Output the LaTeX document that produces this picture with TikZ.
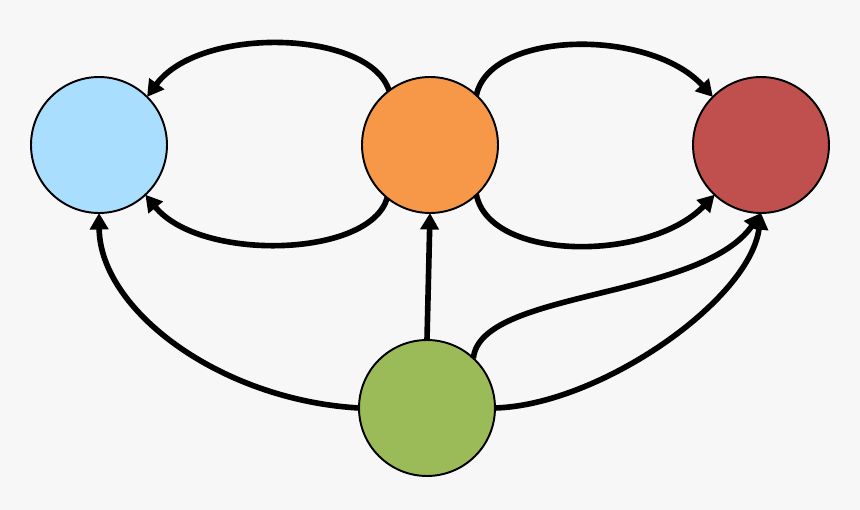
\documentclass[tikz,border=0pt]{standalone}
\usetikzlibrary{arrows.meta}
\definecolor{cfondo}{RGB}{247,247,247}
\definecolor{cazul}{RGB}{170,222,255}
\definecolor{cnaranja}{RGB}{247,152,72}
\definecolor{crojo}{RGB}{192,80,77}
\definecolor{cverde}{RGB}{155,187,89}

\begin{document}
\begin{tikzpicture}[x=0.02cm, y=-0.02cm, >={Triangle[length=0.33cm, width=0.36cm]},
    estado/.style={circle, draw, line width=1.1pt, minimum size=2.72cm, inner sep=0pt, outer sep=0pt},
    flecha/.style={->, line width=3.2pt}]

  \fill[cfondo] (0,0) rectangle (860,510);
  \useasboundingbox (0,0) rectangle (860,510);

  \node[estado, fill=cazul]    (B) at (99,145)  {};
  \node[estado, fill=cnaranja] (O) at (430,145) {};
  \node[estado, fill=crojo]    (R) at (761,145) {};
  \node[estado, fill=cverde]   (G) at (427,408) {};

  % arriba y abajo entre los de arriba
  \draw[flecha] (O.127) .. controls (370,30) and (200,25) .. (B.45);
  \draw[flecha] (O.231) .. controls (370,258) and (200,262) .. (B.313);
  \draw[flecha] (O.47) .. controls (490,30) and (650,28) .. (R.135);
  \draw[flecha] (O.-47) .. controls (490,262) and (650,262) .. (R.227);

  % desde el verde
  \draw[flecha] (G.west) .. controls (220,400) and (100,310) .. (B.south);
  \draw[flecha] (G.north) -- (O.south);
  \draw[flecha] (G.47) .. controls (480,290) and (700,300) .. (R.south);
  \draw[flecha] (G.east) .. controls (600,405) and (750,300) .. (R.south);
\end{tikzpicture}
\end{document}
